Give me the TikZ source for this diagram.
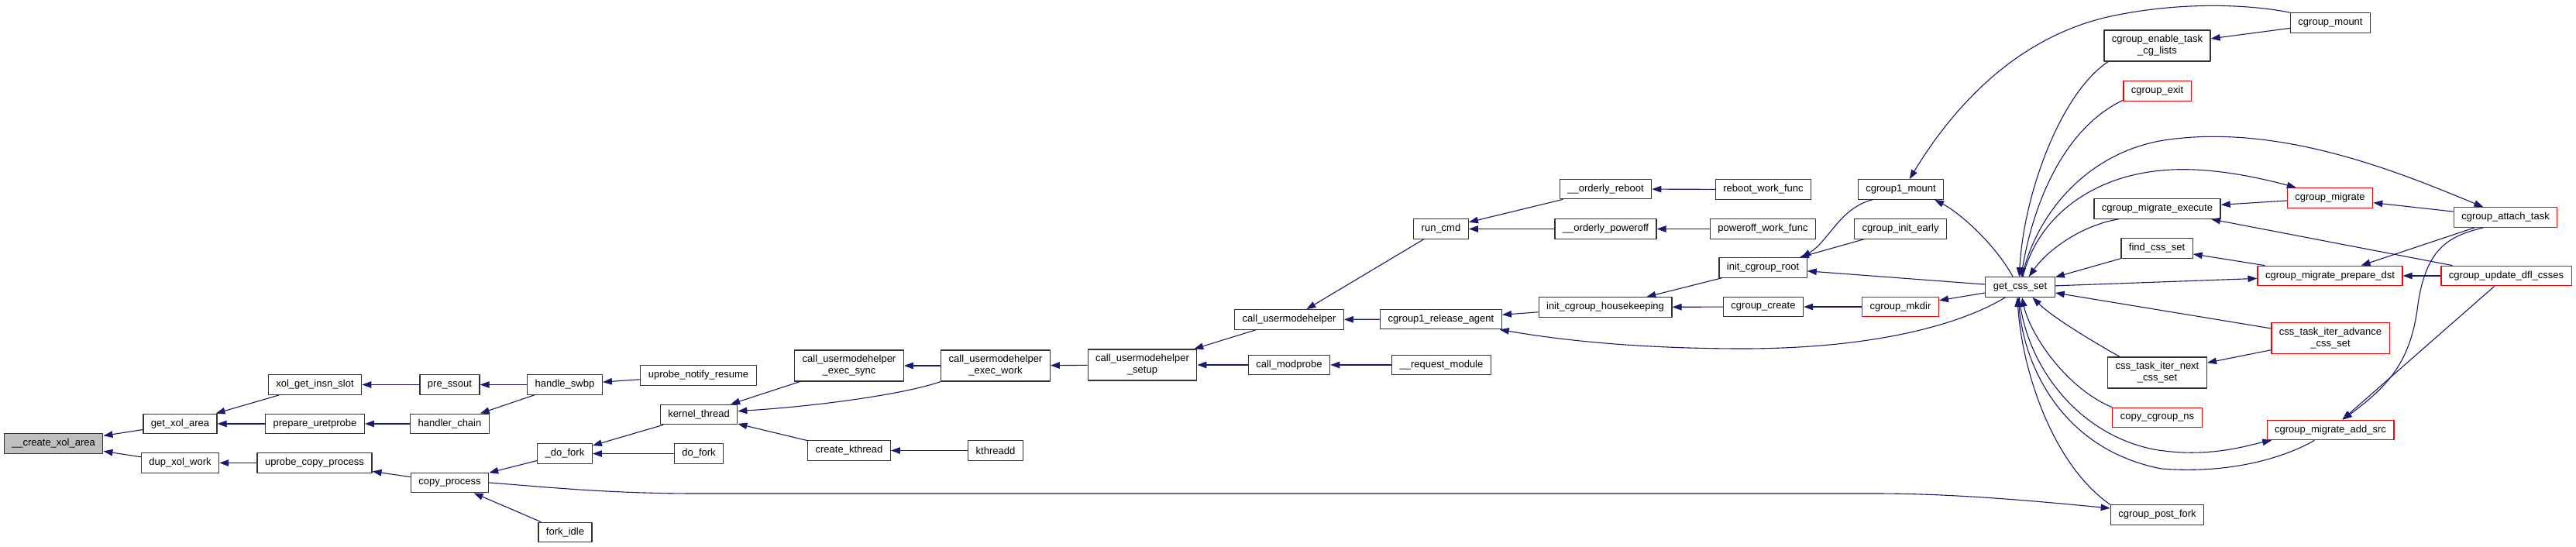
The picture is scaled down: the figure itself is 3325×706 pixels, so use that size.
\documentclass[tikz,border=0pt]{standalone}
\usepackage{fontspec}
\setmainfont{Liberation Sans}
\usetikzlibrary{arrows.meta}
\definecolor{midnight}{RGB}{25,25,112}
\begin{document}
\begin{tikzpicture}[x=1pt,y=-1pt,line join=round,
  fn/.style={draw=black!80,line width=1.2pt,fill=white,font=\fontsize{13}{15}\selectfont,
    inner xsep=10pt,inner ysep=0pt,minimum height=25.5pt,align=center},
  fnred/.style={fn,draw=red},
  fnroot/.style={fn,fill=black!25},
  twoline/.style={minimum height=40pt},
  callarrow/.style={draw=midnight,line width=1.1pt,{Triangle[length=12pt,width=8.5pt]}-}]
  \useasboundingbox (0,0) rectangle (3325,706);
  \node[fnroot] (createxol) at (69,572.5) {\_\_create\_xol\_area};
  \node[fn] (getxol) at (232.5,547) {get\_xol\_area};
  \node[fn] (dupxol) at (232.5,597.5) {dup\_xol\_work};
  \node[fn] (insnslot) at (406.5,496.5) {xol\_get\_insn\_slot};
  \node[fn] (prepuret) at (406.5,547) {prepare\_uretprobe};
  \node[fn] (upcopy) at (406,597.5) {uprobe\_copy\_process};
  \node[fn] (pressout) at (580.5,496.5) {pre\_ssout};
  \node[fn] (hchain) at (580.5,547) {handler\_chain};
  \node[fn] (copyproc) at (580.5,623) {copy\_process};
  \node[fn] (hswbp) at (729,496.5) {handle\_swbp};
  \node[fn] (notify) at (901.5,484.5) {uprobe\_notify\_resume};
  \node[fn] (kthread) at (902,535) {kernel\_thread};
  \node[fn] (dofork1) at (729,585.5) {\_do\_fork};
  \node[fn] (dofork2) at (902,585.5) {do\_fork};
  \node[fn] (forkidle) at (729.5,687) {fork\_idle};
  \node[fn,twoline] (execsync) at (1096,472) {call\_usermodehelper\\\_exec\_sync};
  \node[fn,twoline] (execwork) at (1285,472) {call\_usermodehelper\\\_exec\_work};
  \node[fn] (createkt) at (1096,581.5) {create\_kthread};
  \node[fn] (kthreadd) at (1285,581.5) {kthreadd};
  \node[fn,twoline] (umhsetup) at (1474.5,471) {call\_usermodehelper\\\_setup};
  \node[fn] (umh) at (1664,412.5) {call\_usermodehelper};
  \node[fn] (modprobe) at (1664,471) {call\_modprobe};
  \node[fn] (runcmd) at (1860,295.5) {run\_cmd};
  \node[fn] (relagent) at (1860,412) {cgroup1\_release\_agent};
  \node[fn] (reqmod) at (1860.5,471) {\_\_request\_module};
  \node[fn] (oreboot) at (2072.5,244) {\_\_orderly\_reboot};
  \node[fn] (opoweroff) at (2072.5,295.5) {\_\_orderly\_poweroff};
  \node[fn] (housekeep) at (2072,396.5) {init\_cgroup\_housekeeping};
  \node[fn] (rebootwf) at (2276,244.5) {reboot\_work\_func};
  \node[fn] (poweroffwf) at (2275.5,295.5) {poweroff\_work\_func};
  \node[fn] (initroot) at (2275.5,345.5) {init\_cgroup\_root};
  \node[fn] (cgcreate) at (2276,396) {cgroup\_create};
  \node[fn] (mountone) at (2453.5,244.5) {cgroup1\_mount};
  \node[fn] (initearly) at (2453,295.5) {cgroup\_init\_early};
  \node[fnred] (mkdir) at (2453,396) {cgroup\_mkdir};
  \node[fn] (getcss) at (2607.5,370.5) {get\_css\_set};
  \node[fn,twoline] (enabletask) at (2784.5,59) {cgroup\_enable\_task\\\_cg\_lists};
  \node[fnred] (cgexit) at (2784.5,117.5) {cgroup\_exit};
  \node[fn] (migexec) at (2784.5,269.5) {cgroup\_migrate\_execute};
  \node[fn] (findcss) at (2784,320.5) {find\_css\_set};
  \node[fn,twoline] (iternext) at (2784.5,481) {css\_task\_iter\_next\\\_css\_set};
  \node[fnred] (copyns) at (2784.5,539) {copy\_cgroup\_ns};
  \node[fn] (postfork) at (2784.5,664.5) {cgroup\_post\_fork};
  \node[fn] (cgmount) at (3008,29.5) {cgroup\_mount};
  \node[fnred] (migrate) at (3007.5,255.5) {cgroup\_migrate};
  \node[fnred] (prepdst) at (3007.5,356) {cgroup\_migrate\_prepare\_dst};
  \node[fnred,twoline] (iteradv) at (3008,436.5) {css\_task\_iter\_advance\\\_css\_set};
  \node[fnred] (addsrc) at (3008,555) {cgroup\_migrate\_add\_src};
  \node[fnred] (attach) at (3234,280.5) {cgroup\_attach\_task};
  \node[fnred] (updfl) at (3235,356) {cgroup\_update\_dfl\_csses};

  \draw[callarrow] (createxol) -- (getxol);
  \draw[callarrow] (createxol) -- (dupxol);
  \draw[callarrow] (getxol) -- (insnslot);
  \draw[callarrow] (getxol) -- (prepuret);
  \draw[callarrow] (dupxol) -- (upcopy);
  \draw[callarrow] (insnslot) -- (pressout);
  \draw[callarrow] (prepuret) -- (hchain);
  \draw[callarrow] (upcopy) -- (copyproc);
  \draw[callarrow] (pressout) -- (hswbp);
  \draw[callarrow] (hchain) -- (hswbp);
  \draw[callarrow] (hswbp) -- (notify);
  \draw[callarrow] (copyproc) -- (dofork1);
  \draw[callarrow] (copyproc) -- (forkidle);
  \draw[callarrow] (dofork1) -- (kthread);
  \draw[callarrow] (dofork1) -- (dofork2);
  \draw[callarrow] (kthread) -- (execsync);
  \draw[callarrow] (kthread.5) .. controls (1060,524) and (1170,508) .. (execwork.south west);
  \draw[callarrow] (kthread) -- (createkt);
  \draw[callarrow] (createkt) -- (kthreadd);
  \draw[callarrow] (execsync) -- (execwork);
  \draw[callarrow] (execwork) -- (umhsetup);
  \draw[callarrow] (umhsetup) -- (umh);
  \draw[callarrow] (umhsetup) -- (modprobe);
  \draw[callarrow] (umh) -- (runcmd);
  \draw[callarrow] (umh) -- (relagent);
  \draw[callarrow] (modprobe) -- (reqmod);
  \draw[callarrow] (runcmd) -- (oreboot);
  \draw[callarrow] (runcmd) -- (opoweroff);
  \draw[callarrow] (oreboot) -- (rebootwf);
  \draw[callarrow] (opoweroff) -- (poweroffwf);
  \draw[callarrow] (relagent) -- (housekeep);
  \draw[callarrow] (relagent.-10) .. controls (2020,440) and (2120,450) .. (2250,450) .. controls (2400,450) and (2520,425) .. (getcss.-145);
  \draw[callarrow] (housekeep) -- (initroot);
  \draw[callarrow] (housekeep) -- (cgcreate);
  \draw[callarrow] (cgcreate) -- (mkdir);
  \draw[callarrow] (initroot.15) .. controls (2360,312) and (2375,268) .. (mountone.-160);
  \draw[callarrow] (initroot) -- (initearly);
  \draw[callarrow] (initroot) -- (getcss);
  \draw[callarrow] (mkdir) -- (getcss);
  \draw[callarrow] (mountone.-17) .. controls (2530,275) and (2575,315) .. (getcss.125);
  \draw[callarrow] (mountone.50) .. controls (2520,140) and (2600,50) .. (2720,22) .. controls (2810,2) and (2900,5) .. (cgmount.north west);
  \draw[callarrow] (getcss.95) .. controls (2612,250) and (2660,120) .. (enabletask.-162);
  \draw[callarrow] (getcss.85) .. controls (2625,260) and (2665,165) .. (cgexit.-165);
  \draw[callarrow] (attach.155) .. controls (3105,226) and (2950,160) .. (2800,180) .. controls (2700,193) and (2630,270) .. (getcss.80);
  \draw[callarrow] (migrate.163) .. controls (2900,225) and (2840,215) .. (2790,220) .. controls (2700,228) and (2630,280) .. (getcss.75);
  \draw[callarrow] (getcss.50) .. controls (2645,320) and (2690,290) .. (migexec.-165);
  \draw[callarrow] (getcss) -- (findcss);
  \draw[callarrow] (prepdst) -- (getcss);
  \draw[callarrow] (getcss) -- (iteradv);
  \draw[callarrow] (getcss.-40) .. controls (2650,410) and (2700,440) .. (iternext.157);
  \draw[callarrow] (getcss.-80) .. controls (2620,430) and (2665,500) .. (copyns.north west);
  \draw[callarrow] (addsrc.-170) .. controls (2900,575) and (2850,592) .. (2780,580) .. controls (2680,560) and (2615,470) .. (getcss.-95);
  \draw[callarrow] (getcss.-100) .. controls (2612,470) and (2660,580) .. (2790,605) .. controls (2880,612) and (2950,590) .. (addsrc.-147);
  \draw[callarrow] (getcss.-105) .. controls (2610,480) and (2650,600) .. (postfork.north west);
  \draw[callarrow] (postfork.172) .. controls (2620,646) and (2520,637) .. (2420,637) -- (900,637) .. controls (780,637) and (700,628) .. (copyproc.east);
  \draw[callarrow] (enabletask) -- (cgmount);
  \draw[callarrow] (migexec) -- (migrate);
  \draw[callarrow] (migrate) -- (attach);
  \draw[callarrow] (migexec) -- (updfl);
  \draw[callarrow] (findcss) -- (prepdst);
  \draw[callarrow] (prepdst) -- (attach);
  \draw[callarrow] (prepdst) -- (updfl);
  \draw[callarrow] (addsrc.40) .. controls (3080,500) and (3110,470) .. (3120,400) .. controls (3130,320) and (3160,305) .. (attach.-155);
  \draw[callarrow] (addsrc) -- (updfl);
  \draw[callarrow] (iternext) -- (iteradv);
\end{tikzpicture}
\end{document}
